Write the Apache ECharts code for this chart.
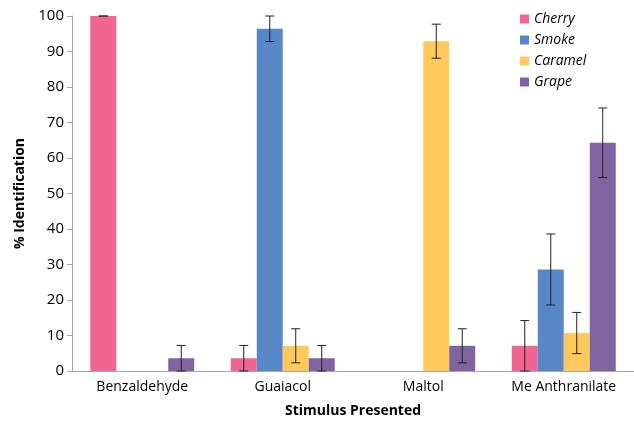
<!DOCTYPE html>
<html><head><meta charset="utf-8">
<script src="https://cdn.jsdelivr.net/npm/echarts@6/dist/echarts.min.js"></script>
<style>html,body{margin:0;padding:0;background:#fff}#c{width:634px;height:423px}</style>
</head><body><div id="c"></div>
<script>
const categories = ['Benzaldehyde', 'Guaiacol', 'Maltol', 'Me Anthranilate'];
const seriesNames = ['Cherry', 'Smoke', 'Caramel', 'Grape'];
const cherry = [100, 3.6, 0, 7.1];
const smoke = [0, 96.4, 0, 28.6];
const caramel = [0, 7.1, 92.9, 10.7];
const grape = [3.6, 3.6, 7.1, 64.3];
const cherryErr = [0, 3.6, null, 7.1];
const smokeErr = [null, 3.6, null, 10];
const caramelErr = [null, 4.8, 4.8, 5.8];
const grapeErr = [3.6, 3.6, 4.8, 9.8];
const yTicks = [0, 10, 20, 30, 40, 50, 60, 70, 80, 90, 100];

const values = [cherry, smoke, caramel, grape];
const errs = [cherryErr, smokeErr, caramelErr, grapeErr];
const colors = ['#F06592', '#5787C6', '#FFC95E', '#8064A2'];
const catGap = 0.26;

const chart = echarts.init(document.getElementById('c'));
const series = [];
seriesNames.forEach((n, i) => {
  series.push({
    name: n, type: 'bar', data: values[i], barGap: '0%', barCategoryGap: (catGap * 100) + '%',
    itemStyle: { color: colors[i] }
  });
});
seriesNames.forEach((n, i) => {
  const d = [];
  values[i].forEach((v, k) => { if (errs[i][k] !== null) d.push([k, v - errs[i][k], v + errs[i][k]]); });
  series.push({
    type: 'custom', name: n + ' err', z: 10, silent: true,
    data: d,
    encode: { x: 0, y: [1, 2] },
    renderItem: (params, api) => {
      const k = api.value(0);
      const lo = api.coord([k, api.value(1)]);
      const hi = api.coord([k, api.value(2)]);
      const cw = api.size([1, 0])[0];
      const groupW = cw * (1 - catGap);
      const bw = groupW / 4;
      const x = lo[0] - groupW / 2 + bw * (i + 0.5);
      const cap = 4.5;
      const style = { stroke: '#222', lineWidth: 1 };
      return { type: 'group', children: [
        { type: 'line', shape: { x1: x, y1: lo[1], x2: x, y2: hi[1] }, style },
        { type: 'line', shape: { x1: x - cap, y1: lo[1], x2: x + cap, y2: lo[1] }, style },
        { type: 'line', shape: { x1: x - cap, y1: hi[1], x2: x + cap, y2: hi[1] }, style }
      ]};
    }
  });
});

chart.setOption({
  animation: false,
  textStyle: { fontFamily: 'Open Sans' },
  grid: { left: 72, right: 0, top: 16, bottom: 52, containLabel: false },
  legend: {
    data: seriesNames, orient: 'vertical', left: 515, top: 7,
    itemWidth: 9, itemHeight: 9, itemGap: 7, icon: 'rect',
    textStyle: { fontStyle: 'italic', fontSize: 14, color: '#000', fontFamily: 'Open Sans' }
  },
  xAxis: {
    type: 'category', data: categories,
    name: 'Stimulus Presented', nameLocation: 'middle', nameGap: 33,
    nameTextStyle: { fontWeight: 'bold', fontSize: 14, color: '#000' },
    axisLine: { lineStyle: { color: '#A6A6A6' } },
    axisTick: { show: false },
    axisLabel: { fontSize: 14, color: '#000', margin: 9 }
  },
  yAxis: {
    type: 'value', min: yTicks[0], max: yTicks[yTicks.length - 1], interval: 10,
    name: '% Identification', nameLocation: 'middle', nameGap: 45, nameRotate: 90,
    nameTextStyle: { fontWeight: 'bold', fontSize: 14, color: '#000' },
    axisLine: { show: true, lineStyle: { color: '#A6A6A6' } },
    axisTick: { show: true, length: 5, lineStyle: { color: '#A6A6A6' } },
    splitLine: { show: false },
    axisLabel: { fontSize: 15, color: '#000', margin: 8 }
  },
  series
});
</script></body></html>
